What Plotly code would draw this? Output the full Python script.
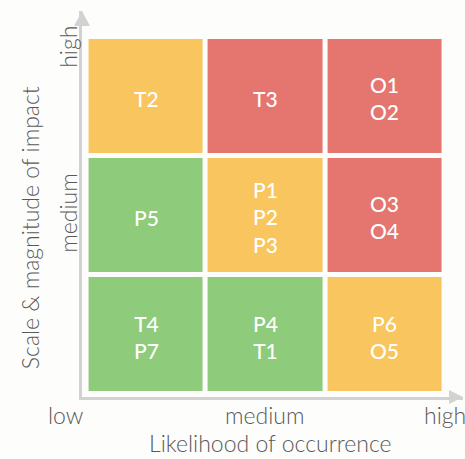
import plotly.graph_objects as go

# Risk matrix: likelihood (columns) x impact (rows, bottom = low)
likelihood = [0, 1, 2]
impact = [0, 1, 2]
likelihood_labels = ["low", "medium", "high"]
impact_labels = ["medium", "high"]

# risk level per cell: 0 = low (green), 1 = moderate (amber), 2 = high (red)
risk_level = [
    [0, 0, 1],   # low impact
    [0, 1, 2],   # medium impact
    [1, 2, 2],   # high impact
]

cell_items = [
    [["T4", "P7"], ["P4", "T1"], ["P6", "O5"]],
    [["P5"], ["P1", "P2", "P3"], ["O3", "O4"]],
    [["T2"], ["T3"], ["O1", "O2"]],
]

GREEN = "#8ecb7a"
AMBER = "#f8c55e"
RED = "#e4756f"
AXIS = "#d2d2d2"
TEXT = "#595959"
FONT = "Lato"

fig = go.Figure()
fig.add_trace(go.Heatmap(
    x=likelihood, y=impact, z=risk_level,
    zmin=0, zmax=2,
    colorscale=[[0, GREEN], [0.5, AMBER], [1, RED]],
    showscale=False, xgap=5, ygap=5, hoverinfo="skip",
))

# item codes inside each cell
for r, row in enumerate(cell_items):
    for c, items in enumerate(row):
        fig.add_annotation(
            x=likelihood[c], y=impact[r], text="<br>".join(items),
            showarrow=False, yshift=-2,
            font=dict(family=FONT, size=21, color="white", weight=500),
            xref="x", yref="y",
        )

# arrowheads at the ends of both axes
fig.add_shape(type="path", xref="paper", yref="paper", xsizemode="pixel", ysizemode="pixel",
              xanchor=0, yanchor=1, path="M-8,-15 L0,0 L8,-15 Z",
              fillcolor=AXIS, line=dict(width=0))
fig.add_shape(type="path", xref="paper", yref="paper", xsizemode="pixel", ysizemode="pixel",
              xanchor=1, yanchor=0, path="M-14,7 L0,0 L-14,-7 Z",
              fillcolor=AXIS, line=dict(width=0))

label_font = dict(family=FONT, size=23, color=TEXT, weight=300)

# category labels along the axes
x_label_pos = [-0.042, 0.48, 0.953]
for txt, xp in zip(likelihood_labels, x_label_pos):
    fig.add_annotation(x=xp, y=-0.047, xref="paper", yref="paper", text=txt,
                       showarrow=False, yanchor="middle", xanchor="center",
                       font=label_font)
y_label_pos = [0.477, 0.907]
for txt, yp in zip(impact_labels, y_label_pos):
    fig.add_annotation(x=-0.037, y=yp, xref="paper", yref="paper", text=txt,
                       showarrow=False, textangle=-90,
                       xanchor="center", yanchor="middle", font=label_font)

fig.add_annotation(x=0.496, y=-0.12, xref="paper", yref="paper",
                   text="Likelihood of occurrence", showarrow=False,
                   xanchor="center", yanchor="middle", font=label_font)
fig.add_annotation(x=-0.1365, y=0.44, xref="paper", yref="paper",
                   text="Scale &amp; magnitude of impact", showarrow=False, textangle=-90,
                   xanchor="center", yanchor="middle", font=label_font)

fig.update_xaxes(range=[-0.538, 2.656], showgrid=False, zeroline=False,
                 showticklabels=False, ticks="", showline=True,
                 linecolor=AXIS, linewidth=3)
fig.update_yaxes(range=[-0.525, 2.718], showgrid=False, zeroline=False,
                 showticklabels=False, ticks="", showline=True,
                 linecolor=AXIS, linewidth=3)

fig.update_layout(
    width=465, height=459,
    margin=dict(l=82, r=2, t=11, b=62),
    paper_bgcolor="#fdfdfc", plot_bgcolor="#fdfdfc",
    showlegend=False,
)

fig.write_html("out.html")
